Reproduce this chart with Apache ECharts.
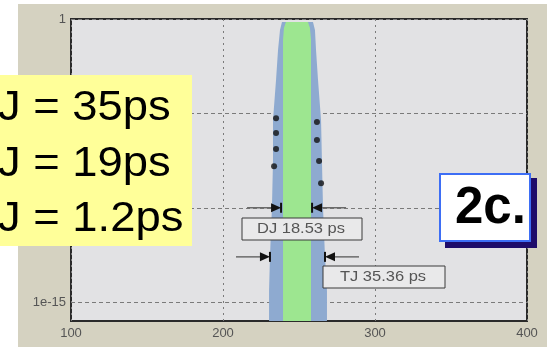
<!DOCTYPE html>
<html><head><meta charset="utf-8">
<script src="https://cdn.jsdelivr.net/npm/echarts@6/dist/echarts.min.js"></script>
<style>html,body{margin:0;padding:0;background:#fff}#c{width:560px;height:347px}</style>
</head><body><div id="c"></div>
<script>
// ---- data ----
const xTickValues = [100, 200, 300, 400];
const yGridValues = [1e-15, 1e-10, 1e-5, 1];
const yLabelValues = [1e-15, 1];
const yLabelTop = '1';
const yLabelBottom = '1e-15';
// total jitter (blue) band: left edge bottom->top, right edge top->bottom
const tjLeftX  = [230.3, 230.3, 230.9, 232.2, 232.9, 232.9, 234.9, 236.2, 237.5, 238.8];
const tjLeftY  = [1e-16, 4e-15, 2.5e-13, 1e-10, 3e-8, 4.5e-6, 6e-4, 2.3e-2, 0.26, 0.7];
const tjRightX = [259.2, 260.5, 261.2, 262.5, 264.5, 265.1, 265.8, 267.1, 268.4, 268.4];
const tjRightY = [0.7, 0.26, 2.3e-2, 6e-4, 4.5e-6, 3e-8, 1e-10, 2.5e-13, 4e-15, 1e-16];
// deterministic jitter (green) band
const djLeftX  = [239.5, 239.5, 240.1, 241.4];
const djLeftY  = [1e-16, 7.8e-2, 0.33, 0.7];
const djRightX = [255.9, 257.2, 257.9, 257.9];
const djRightY = [0.7, 0.33, 7.8e-2, 1e-16];
// black dots
const leftDotsX  = [234.9, 234.9, 234.9, 233.6];
const leftDotsY  = [5.6e-6, 9e-7, 1.3e-7, 1.6e-8];
const rightDotsX = [261.8, 261.8, 263.2, 264.5];
const rightDotsY = [3.5e-6, 3.9e-7, 3e-8, 2e-9];
// measurement markers
const djMarkerX = [238.2, 258.6];
const djLevel = 1e-10;
const tjMarkerX = [230.9, 267.1];
const tjLevel = 2.5e-13;
// texts
const summaryLines = ['J = 35ps', 'J = 19ps', 'J = 1.2ps'];
const djLabel = 'DJ 18.53 ps';
const tjLabel = 'TJ 35.36 ps';
const figLabel = '2c.';

// ---- build ----
const FONT = '"Liberation Sans", Arial, sans-serif';
function pairs(xs, ys) { return xs.map((x, i) => [x, ys[i]]); }
const tjPoly = pairs(tjLeftX, tjLeftY).concat(pairs(tjRightX, tjRightY));
const djPoly = pairs(djLeftX, djLeftY).concat(pairs(djRightX, djRightY));
const dots = pairs(leftDotsX, leftDotsY).concat(pairs(rightDotsX, rightDotsY));
const markers = [
  [djMarkerX[0], djLevel, 1], [djMarkerX[1], djLevel, -1],
  [tjMarkerX[0], tjLevel, 1], [tjMarkerX[1], tjLevel, -1]
];

function polySeries(pts, color, z) {
  return {
    type: 'custom', z: z, silent: true, data: pts,
    encode: { x: 0, y: 1 },
    renderItem: function (params, api) {
      if (params.dataIndex !== 0) return null;
      return { type: 'polygon', shape: { points: pts.map(p => api.coord(p)) }, style: { fill: color } };
    }
  };
}

const chart = echarts.init(document.getElementById('c'), null, { renderer: 'canvas' });
chart.setOption({
  animation: false,
  backgroundColor: '#ffffff',
  textStyle: { fontFamily: FONT },
  grid: { left: 71, right: 33, top: 19, bottom: 26, show: true, backgroundColor: '#e2e2e4', borderColor: '#2a2a2a', borderWidth: 2 },
  xAxis: {
    type: 'value', min: xTickValues[0], max: xTickValues[xTickValues.length - 1], interval: 100,
    axisLine: { show: false }, axisTick: { show: false },
    splitLine: { show: true, lineStyle: { color: '#7a7a7a', type: [2, 4], width: 1 } },
    axisLabel: { color: '#555', fontSize: 13, margin: 6, fontFamily: FONT }
  },
  yAxis: {
    type: 'log', logBase: 10, min: 1e-16, max: 1,
    axisLine: { show: false },
    axisTick: { show: false, customValues: yGridValues },
    splitLine: { show: true, lineStyle: { color: '#7a7a7a', type: [4, 3], width: 1 } },
    axisLabel: {
      color: '#555', fontSize: 13, margin: 5, fontFamily: FONT,
      customValues: yLabelValues,
      formatter: function (v) {
        const e = Math.round(Math.log10(v));
        if (e === 0) return yLabelTop;
        if (e === -15) return yLabelBottom;
        return '';
      }
    }
  },
  series: [
    polySeries(tjPoly, '#8eaad0', 2),
    polySeries(djPoly, '#9de690', 3),
    {
      type: 'scatter', z: 5, silent: true, data: dots, symbol: 'circle', symbolSize: 6,
      itemStyle: { color: '#111111' }
    },
    {
      type: 'custom', z: 6, silent: true, data: markers, encode: { x: 0, y: 1 },
      renderItem: function (params, api) {
        const p = api.coord([api.value(0), api.value(1)]);
        const d = api.value(2);
        const x = p[0], y = p[1];
        return {
          type: 'group', children: [
            { type: 'line', shape: { x1: x - d * 34, y1: y, x2: x - d * 9, y2: y }, style: { stroke: '#6a6a6a', lineWidth: 1.5 } },
            { type: 'polygon', shape: { points: [[x - d * 10, y - 4.5], [x - d * 10, y + 4.5], [x, y]] }, style: { fill: '#111' } },
            { type: 'line', shape: { x1: x, y1: y - 5, x2: x, y2: y + 5 }, style: { stroke: '#111', lineWidth: 2 } }
          ]
        };
      }
    }
  ],
  graphic: [
    { type: 'rect', z: -10, shape: { x: 18, y: 4, width: 529, height: 343 }, style: { fill: '#d5d2c1' } },
    // measurement boxes
    { type: 'rect', z: 50, shape: { x: 242, y: 218, width: 120, height: 22 }, style: { fill: '#e9e9ea', stroke: '#3a3a3a', lineWidth: 1 } },
    { type: 'text', z: 51, x: 301, y: 229, scaleX: 1.1, style: { text: djLabel, fill: '#555', font: '15px ' + FONT, align: 'center', verticalAlign: 'middle' } },
    { type: 'rect', z: 50, shape: { x: 323, y: 266, width: 122, height: 22 }, style: { fill: '#e9e9ea', stroke: '#3a3a3a', lineWidth: 1 } },
    { type: 'text', z: 51, x: 383, y: 277, scaleX: 1.1, style: { text: tjLabel, fill: '#555', font: '15px ' + FONT, align: 'center', verticalAlign: 'middle' } },
    // yellow summary box
    { type: 'rect', z: 100, shape: { x: 0, y: 75, width: 192, height: 171 }, style: { fill: '#ffff99' } },
    { type: 'text', z: 101, x: -2, y: 108, scaleX: 1.08, style: { text: summaryLines[0], fill: '#000', font: '42px ' + FONT, align: 'left', verticalAlign: 'middle' } },
    { type: 'text', z: 101, x: -2, y: 164, scaleX: 1.08, style: { text: summaryLines[1], fill: '#000', font: '42px ' + FONT, align: 'left', verticalAlign: 'middle' } },
    { type: 'text', z: 101, x: -2, y: 219, scaleX: 1.08, style: { text: summaryLines[2], fill: '#000', font: '42px ' + FONT, align: 'left', verticalAlign: 'middle' } },
    // figure label
    { type: 'rect', z: 100, shape: { x: 445, y: 178, width: 92, height: 70 }, style: { fill: '#1e0c6a' } },
    { type: 'rect', z: 101, shape: { x: 440, y: 174, width: 90, height: 67 }, style: { fill: '#ffffff', stroke: '#3d6ef5', lineWidth: 2 } },
    { type: 'text', z: 102, x: 455, y: 209, style: { text: figLabel, fill: '#000', font: 'bold 51px ' + FONT, align: 'left', verticalAlign: 'middle' } }
  ]
});
</script>
</body></html>
